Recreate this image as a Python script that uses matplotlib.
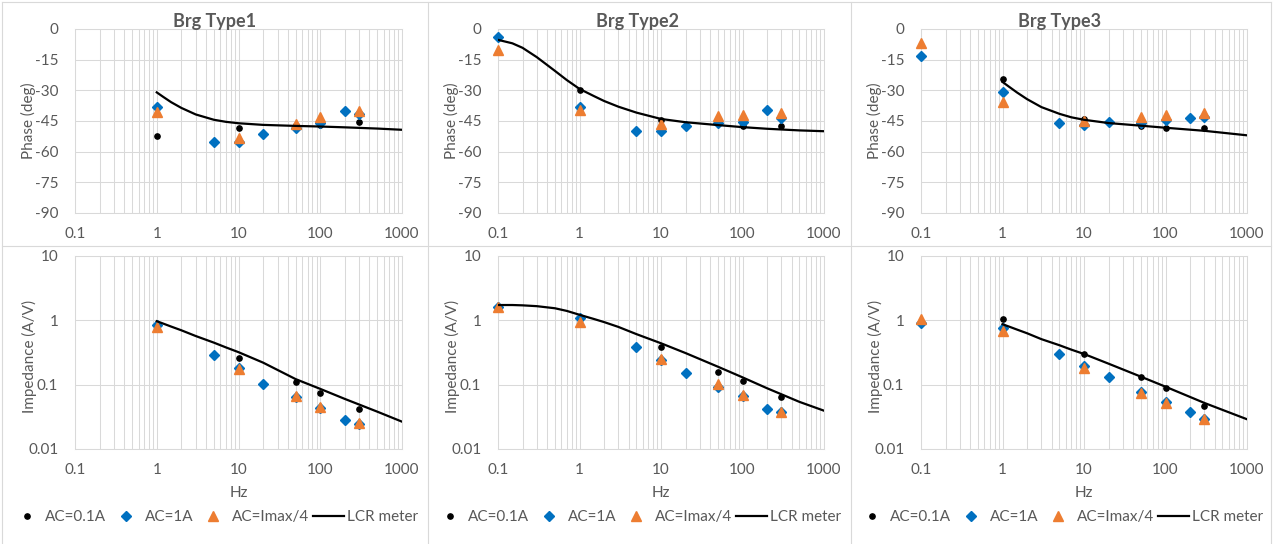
import matplotlib
matplotlib.use("Agg")
import matplotlib.pyplot as plt
from matplotlib.lines import Line2D
from matplotlib.ticker import FixedLocator, FixedFormatter, LogLocator, NullFormatter

plt.rcParams['font.family'] = ['Lato', 'DejaVu Sans']

W, H = 1273, 544

titles = ["Brg Type1", "Brg Type2", "Brg Type3"]
series_names = ["AC=0.1A", "AC=1A", "AC=Imax/4", "LCR meter"]

# ---------- Brg Type1 ----------
f_black1 = [1, 10, 50, 100, 300]
f_blue1 = [1, 5, 10, 20, 50, 100, 200, 300]
f_orange1 = [1, 10, 50, 100, 300]
phase_black1 = [-52.5, -48.5, -47, -47, -45.5]
phase_blue1 = [-38, -55.5, -55.5, -51.5, -48.4, -46, -40, -41.7]
phase_orange1 = [-40.4, -53.2, -46.4, -43.2, -40]
imp_black1 = [0.85, 0.263, 0.111, 0.074, 0.0414]
imp_blue1 = [0.85, 0.289, 0.18, 0.104, 0.065, 0.043, 0.028, 0.0245]
imp_orange1 = [0.78, 0.177, 0.0667, 0.0444, 0.0254]
f_lcr1 = [1, 1.2, 1.5, 2, 3, 5, 7, 10, 20, 50, 100, 200, 500, 1000]
phase_lcr1 = [-31, -33.2, -35.8, -38.6, -41.8, -44.4, -45.4, -46.1, -46.9, -47.4, -47.7, -48.1, -48.7, -49.3]
imp_lcr1 = [0.97, 0.89, 0.80, 0.70, 0.57, 0.45, 0.38, 0.32, 0.22, 0.122, 0.086, 0.060, 0.038, 0.0266]

# ---------- Brg Type2 ----------
f_black2 = [1, 10, 50, 100, 300]
f_blue2 = [0.1, 1, 5, 10, 20, 50, 100, 200, 300]
f_orange2 = [0.1, 1, 10, 50, 100, 300]
phase_black2 = [-29.7, -44.4, -46, -47.3, -47.3]
phase_blue2 = [-3.7, -38, -50, -50, -47.6, -46, -45.5, -39.6, -43.5]
phase_orange2 = [-10.5, -39.6, -46.7, -42.6, -42.3, -40.9]
imp_black2 = [1.1, 0.38, 0.157, 0.115, 0.0636]
imp_blue2 = [1.6, 1.07, 0.39, 0.24, 0.154, 0.091, 0.067, 0.0419, 0.037]
imp_orange2 = [1.63, 0.95, 0.248, 0.101, 0.069, 0.038]
f_lcr2 = [0.1, 0.15, 0.2, 0.3, 0.5, 0.7, 1, 1.5, 2, 3, 5, 10, 20, 50, 100, 200, 500, 1000]
phase_lcr2 = [-5.3, -7, -9.2, -13.8, -20.5, -25, -29.3, -32.8, -35.2, -38, -40.9, -44, -45.6, -47,
              -48, -48.8, -49.6, -50]
imp_lcr2 = [1.73, 1.73, 1.71, 1.66, 1.54, 1.40, 1.22, 1.05, 0.94, 0.79, 0.61, 0.44, 0.31, 0.19,
            0.13, 0.088, 0.054, 0.0394]

# ---------- Brg Type3 ----------
f_black3 = [1, 10, 50, 100, 300]
f_blue3 = [0.1, 1, 5, 10, 20, 50, 100, 200, 300]
f_orange3 = [0.1, 1, 10, 50, 100, 300]
phase_black3 = [-24.6, -44, -47.3, -48.6, -48.6]
phase_blue3 = [-13.4, -31, -46, -46.9, -45.7, -46, -44.4, -43.5, -42.8]
phase_orange3 = [-6.8, -35.5, -45.2, -43.1, -42.2, -41.2]
imp_black3 = [1.04, 0.296, 0.13, 0.0877, 0.047]
imp_blue3 = [0.90, 0.75, 0.296, 0.195, 0.133, 0.078, 0.053, 0.037, 0.029]
imp_orange3 = [1.05, 0.68, 0.179, 0.075, 0.0525, 0.029]
f_lcr3 = [1, 1.2, 1.5, 2, 3, 5, 7, 10, 20, 50, 100, 300, 1000]
phase_lcr3 = [-25.9, -28.2, -31, -34.3, -38.2, -41.5, -43.2, -44.4, -46, -47.3, -48.3, -49.8, -52]
imp_lcr3 = [0.87, 0.80, 0.72, 0.63, 0.51, 0.41, 0.35, 0.30, 0.212, 0.133, 0.093, 0.052, 0.029]

panels = [
    (f_black1, f_blue1, f_orange1, phase_black1, phase_blue1, phase_orange1,
     imp_black1, imp_blue1, imp_orange1, f_lcr1, phase_lcr1, imp_lcr1),
    (f_black2, f_blue2, f_orange2, phase_black2, phase_blue2, phase_orange2,
     imp_black2, imp_blue2, imp_orange2, f_lcr2, phase_lcr2, imp_lcr2),
    (f_black3, f_blue3, f_orange3, phase_black3, phase_blue3, phase_orange3,
     imp_black3, imp_blue3, imp_orange3, f_lcr3, phase_lcr3, imp_lcr3),
]

x_ticks = [0.1, 1, 10, 100, 1000]
x_ticklabels = ["0.1", "1", "10", "100", "1000"]
phase_ticks = [0, -15, -30, -45, -60, -75, -90]
phase_ticklabels = ["0", "-15", "-30", "-45", "-60", "-75", "-90"]
imp_ticks = [0.01, 0.1, 1, 10]
imp_ticklabels = ["0.01", "0.1", "1", "10"]

GRID = "#d9d9d9"
TXT = "#595959"
BLUE = "#0070C0"
ORANGE = "#ED7D31"
FS = 11

fig = plt.figure(figsize=(W / 100, H / 100), dpi=100)


def rect(l, t, r, b):
    return [l / W, 1 - b / H, (r - l) / W, (b - t) / H]


# chart borders
for x in [2, 428, 851, 1271]:
    fig.add_artist(Line2D([x / W, x / W], [0, 1 - 2 / H], transform=fig.transFigure,
                          color=GRID, lw=0.8))
for y in [2, 246]:
    fig.add_artist(Line2D([2 / W, 1271 / W], [1 - y / H, 1 - y / H], transform=fig.transFigure,
                          color=GRID, lw=0.8))

cols = [(75, 402), (498, 824), (921, 1247)]
centers = [215, 638, 1060]


def style_axes(ax):
    ax.set_xscale('log')
    ax.set_xlim(0.1, 1000)
    ax.xaxis.set_major_locator(FixedLocator(x_ticks))
    ax.xaxis.set_major_formatter(FixedFormatter(x_ticklabels))
    ax.xaxis.set_minor_locator(LogLocator(base=10, subs=range(2, 10)))
    ax.xaxis.set_minor_formatter(NullFormatter())
    ax.grid(True, which='major', axis='both', color=GRID, lw=0.75)
    ax.grid(True, which='minor', axis='x', color=GRID, lw=0.75)
    for s in ax.spines.values():
        s.set_color(GRID)
        s.set_linewidth(0.75)
    ax.tick_params(which='both', length=0, labelsize=FS, labelcolor=TXT)
    ax.tick_params(axis='y', pad=12)
    ax.tick_params(axis='x', pad=10)
    ax.set_axisbelow(True)


for i, p in enumerate(panels):
    (fb, fbl, fo, pb, pbl, po, ib, ibl, io, fl, pl, il) = p
    l, r = cols[i]
    axp = fig.add_axes(rect(l, 29, r, 213))
    axi = fig.add_axes(rect(l, 256, r, 449))
    for ax in (axp, axi):
        style_axes(ax)
    axp.set_ylim(-90, 0)
    axp.yaxis.set_major_locator(FixedLocator(phase_ticks))
    axp.yaxis.set_major_formatter(FixedFormatter(phase_ticklabels))
    axi.set_yscale('log')
    axi.set_ylim(0.01, 10)
    axi.yaxis.set_major_locator(FixedLocator(imp_ticks))
    axi.yaxis.set_major_formatter(FixedFormatter(imp_ticklabels))
    axi.yaxis.set_minor_locator(FixedLocator([]))

    for ax, yb, ybl, yo, yl in ((axp, pb, pbl, po, pl), (axi, ib, ibl, io, il)):
        ax.plot(fb, yb, 'o', color='black', ms=3.8, ls='none', label=series_names[0],
                zorder=3, clip_on=False)
        ax.plot(fbl, ybl, 'D', color=BLUE, ms=4.8, ls='none', label=series_names[1],
                zorder=4, clip_on=False)
        ax.plot(fo, yo, '^', color=ORANGE, ms=7, ls='none', label=series_names[2],
                zorder=5, clip_on=False)
        ax.plot(fl, yl, '-', color='black', lw=1.6, label=series_names[3], zorder=6,
                solid_joinstyle='round')

    fig.text(centers[i] / W, 1 - 22 / H, titles[i], ha='center', va='center',
             fontsize=13, fontweight='bold', color=TXT)
    fig.text((l - 47) / W, 1 - 121 / H, "Phase (deg)", rotation=90, ha='center', va='center',
             fontsize=FS, color=TXT)
    fig.text((l - 46) / W, 1 - 356 / H, "Impedance (A/V)", rotation=90, ha='center', va='center',
             fontsize=FS, color=TXT)
    fig.text((l + r) / 2 / W, 1 - 493 / H, "Hz", ha='center', va='center',
             fontsize=FS, color=TXT)

    handles, labels = axi.get_legend_handles_labels()
    fig.legend(handles, labels, loc='center', bbox_to_anchor=(centers[i] / W, 1 - 517 / H),
               ncol=4, frameon=False, fontsize=FS, labelcolor=TXT,
               handlelength=2.0, handletextpad=0.2, columnspacing=0.3,
               borderaxespad=0, borderpad=0)

fig.savefig("out.png", dpi=100)
